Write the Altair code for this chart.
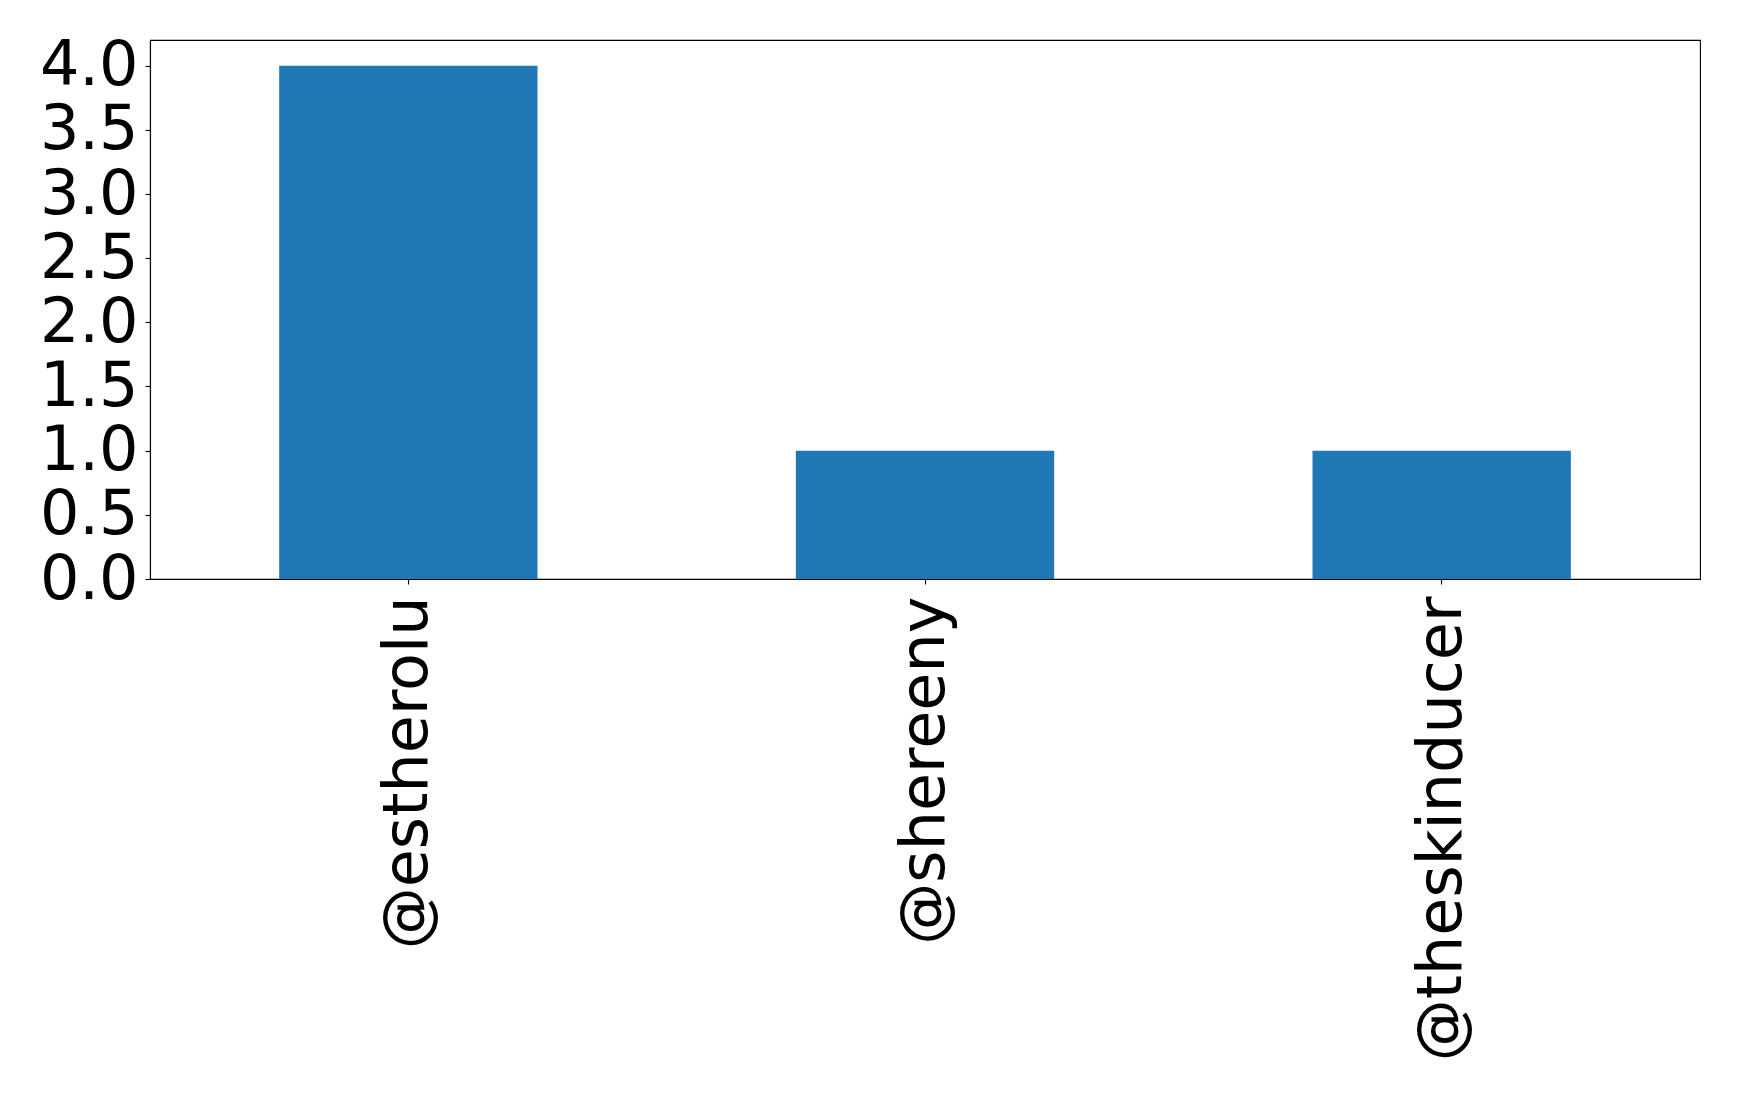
import altair as alt
import pandas as pd

accounts = ["@estherolu", "@shereeny", "@theskinducer"]
counts = [4, 1, 1]
y_ticks = [0.0, 0.5, 1.0, 1.5, 2.0, 2.5, 3.0, 3.5, 4.0]

df = pd.DataFrame({"account": accounts, "count": counts})

FONT = "DejaVu Sans"

chart = alt.Chart(df).mark_bar(color="#1f77b4").encode(
    x=alt.X(
        "account:N",
        sort=accounts,
        title=None,
        scale=alt.Scale(paddingInner=0.5, paddingOuter=0.25),
        axis=alt.Axis(
            labelAngle=-90,
            labelFontSize=62,
            labelFont=FONT,
            labelColor="black",
            labelPadding=12,
            tickSize=5,
            tickColor="black",
            domainColor="black",
            labelOverlap=False,
            labelLimit=0,
        ),
    ),
    y=alt.Y(
        "count:Q",
        title=None,
        scale=alt.Scale(domain=[0, 4.2], nice=False),
        axis=alt.Axis(
            values=y_ticks,
            format=".1f",
            labelFontSize=62,
            labelFont=FONT,
            labelColor="black",
            labelPadding=7,
            tickSize=5,
            tickColor="black",
            domainColor="black",
            grid=False,
            labelOverlap=False,
            labelFlush=False,
        ),
    ),
).properties(
    width=1550,
    height=539,
    autosize=alt.AutoSizeParams(type="none"),
    padding={"left": 142, "top": 32, "right": 31, "bottom": 510},
).configure_view(
    stroke="black", strokeWidth=1.1
).configure_axis(
    domainWidth=1.1, tickWidth=1.1
)

chart.save("out.html", embed_options={"renderer": "svg", "actions": False})
